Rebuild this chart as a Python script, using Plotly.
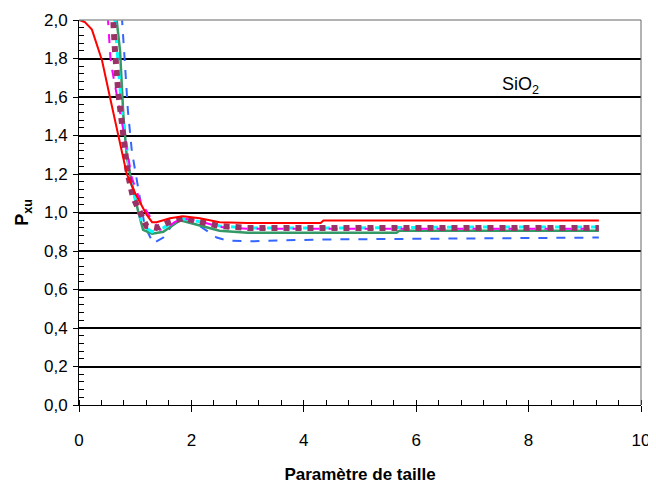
import plotly.graph_objects as go

red_x = [0, 0.1, 0.23, 0.41, 0.55, 0.73, 0.85, 1.0, 1.09, 1.2, 1.3, 1.38, 1.5, 1.62, 1.85, 2.15, 2.5, 3.0, 4.3, 4.35, 6, 8, 9.25]
red_y = [2.0, 1.99, 1.95, 1.79, 1.6, 1.36, 1.2, 1.1, 1.05, 0.99, 0.95, 0.95, 0.96, 0.97, 0.98, 0.97, 0.95, 0.945, 0.945, 0.958, 0.958, 0.958, 0.958]

magenta_x = [0.45, 0.52, 0.56, 0.59, 0.73, 0.82, 0.94, 1.09, 1.26, 1.44, 1.56, 1.7, 1.85, 2.2, 2.5, 3, 5, 7, 9.25]
magenta_y = [2.3, 2.0, 1.8, 1.74, 1.53, 1.38, 1.18, 1.06, 0.98, 0.91, 0.92, 0.95, 0.97, 0.95, 0.925, 0.915, 0.915, 0.915, 0.915]

purple_x = [0.55, 0.6, 0.64, 0.7, 0.79, 0.87, 0.96, 1.09, 1.2, 1.38, 1.6, 1.85, 2.2, 2.5, 3, 5, 7, 9.25]
purple_y = [2.3, 2.0, 1.84, 1.62, 1.41, 1.2, 1.08, 1.0, 0.93, 0.92, 0.95, 0.97, 0.95, 0.93, 0.92, 0.92, 0.92, 0.92]

cyan_x = [0.6, 0.64, 0.7, 0.76, 0.85, 0.91, 1.03, 1.14, 1.3, 1.5, 1.8, 2.2, 2.5, 3, 5, 7, 9.25]
cyan_y = [2.3, 2.0, 1.76, 1.53, 1.34, 1.18, 1.03, 0.93, 0.90, 0.92, 0.97, 0.95, 0.93, 0.92, 0.92, 0.925, 0.925]

green_x = [0.63, 0.67, 0.73, 0.79, 0.85, 0.94, 1.05, 1.14, 1.3, 1.5, 1.8, 2.2, 2.5, 3, 5.65, 5.7, 9.25]
green_y = [2.3, 2.0, 1.84, 1.5, 1.29, 1.15, 1.01, 0.91, 0.89, 0.90, 0.96, 0.93, 0.905, 0.895, 0.895, 0.905, 0.905]

blue_x = [0.7, 0.76, 0.82, 0.87, 0.94, 1.01, 1.09, 1.17, 1.32, 1.5, 1.67, 1.85, 2.15, 2.45, 2.63, 3, 4.3, 8.5, 9.25]
blue_y = [2.3, 2.0, 1.76, 1.53, 1.32, 1.2, 1.06, 0.93, 0.84, 0.87, 0.94, 0.96, 0.93, 0.87, 0.855, 0.85, 0.86, 0.87, 0.87]

y_ticks = [0.0, 0.2, 0.4, 0.6, 0.8, 1.0, 1.2, 1.4, 1.6, 1.8, 2.0]
x_ticks = [0, 2, 4, 6, 8, 10]

fig = go.Figure()
series = [
    (blue_x, blue_y, "#3366FF", "dash", 2),
    (green_x, green_y, "#339966", "solid", 2.5),
    (cyan_x, cyan_y, "#00FFFF", "dash", 3),
    (magenta_x, magenta_y, "#FF00FF", "dash", 2),
    (purple_x, purple_y, "#993366", "dot", 6),
    (red_x, red_y, "#FF0000", "solid", 2),
]
for xs, ys, c, d, w in series:
    fig.add_trace(go.Scatter(x=xs, y=ys, mode="lines",
                             line=dict(color=c, dash=d, width=w),
                             showlegend=False))

font = "Liberation Sans, Arial, sans-serif"
fig.update_layout(
    width=648, height=485,
    margin=dict(l=71, r=15, t=12, b=88),
    paper_bgcolor="white", plot_bgcolor="white",
    separators=", ",
    font=dict(family=font, size=17, color="black"),
    xaxis=dict(range=[0, 10], tickvals=x_ticks, ticks="outside", ticklen=6,
               tickcolor="black", showline=True, linecolor="black", linewidth=1,
               showgrid=False, zeroline=False, automargin=False,
               minor=dict(dtick=0.4, ticks="inside", ticklen=5, tickcolor="black", showgrid=False),
               title=dict(text="<b>Paramètre de taille</b>", font=dict(size=17), standoff=18),
               ticklabelstandoff=14),
    yaxis=dict(range=[0, 2.0], tickvals=y_ticks, tickformat=".1f", ticks="outside",
               ticklen=5, tickcolor="black", showline=True, linecolor="black", linewidth=1,
               showgrid=True, gridcolor="black", gridwidth=1.5, zeroline=False, automargin=False,
               minor=dict(dtick=0.04, ticks="inside", ticklen=5, tickcolor="black", showgrid=False),
               title=dict(text="<b>P<sub>xu</sub></b>", font=dict(size=18), standoff=10),
               ticklabelstandoff=2),
)
fig.add_shape(type="line", xref="paper", yref="paper", x0=0, x1=1, y0=1, y1=1,
              line=dict(color="#999999", width=1.5))
fig.add_shape(type="line", xref="paper", yref="paper", x0=1, x1=1, y0=0, y1=1,
              line=dict(color="#666666", width=1))
fig.add_annotation(x=7.85, y=1.66, text="SiO<sub>2</sub>", showarrow=False,
                   font=dict(size=18, family=font))
fig.write_html("out.html")
